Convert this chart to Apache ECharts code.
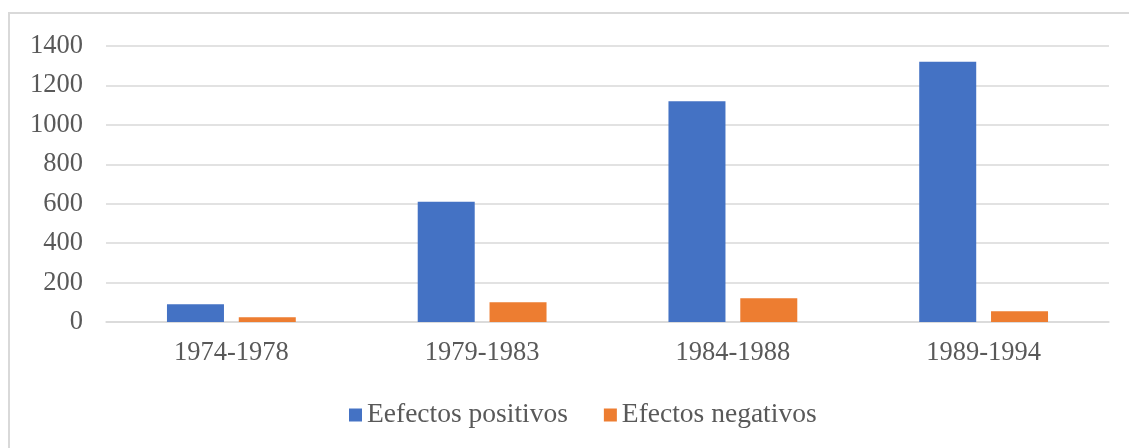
<!DOCTYPE html>
<html>
<head>
<meta charset="utf-8">
<script src="https://cdn.jsdelivr.net/npm/echarts@6/dist/echarts.min.js"></script>
<style>
  html, body { margin: 0; padding: 0; background: #fff; }
  #main { width: 1129px; height: 448px; }
</style>
</head>
<body>
<div id="main"></div>
<script>
// periods on the x axis
const periodos = ['1974-1978', '1979-1983', '1984-1988', '1989-1994']
// series values
const positivos = [90, 610, 1120, 1320]
const negativos = [24, 100, 120, 54]

const myChart = echarts.init(document.getElementById('main'))

const txt = { color: '#595959', fontFamily: '"Liberation Serif", "Times New Roman", serif', fontSize: 26.5 }

const option = {
  animation: false,
  backgroundColor: '#fff',
  // light frame around the chart
  graphic: [{
    type: 'rect',
    shape: { x: 9, y: 13, width: 1140, height: 460 },
    style: { fill: 'none', stroke: '#d9d9d9', lineWidth: 2 },
    silent: true
  }],
  grid: { left: 106, right: 20, top: 46, bottom: 126 },
  legend: {
    left: 344,
    top: 396,
    itemWidth: 13,
    itemHeight: 13,
    itemGap: 36,
    icon: 'rect',
    textStyle: Object.assign({}, txt, { fontSize: 27.5 })
  },
  xAxis: {
    type: 'category',
    data: periodos,
    axisLine: { lineStyle: { color: '#d9d9d9', width: 1.5 } },
    axisTick: { show: false },
    axisLabel: Object.assign({ margin: 18 }, txt)
  },
  yAxis: {
    type: 'value',
    min: 0,
    max: 1400,
    interval: 200,
    splitLine: { lineStyle: { color: '#d9d9d9', width: 1.5 } },
    axisLabel: Object.assign({ margin: 23, formatter: v => String(v) }, txt)
  },
  series: [
    {
      name: 'Eefectos positivos',
      type: 'bar',
      data: positivos,
      barWidth: 57,
      barGap: '26%',
      itemStyle: { color: '#4472C4' }
    },
    {
      name: 'Efectos negativos',
      type: 'bar',
      data: negativos,
      barWidth: 57,
      itemStyle: { color: '#ED7D31' }
    }
  ]
}
myChart.setOption(option)
</script>
</body>
</html>
